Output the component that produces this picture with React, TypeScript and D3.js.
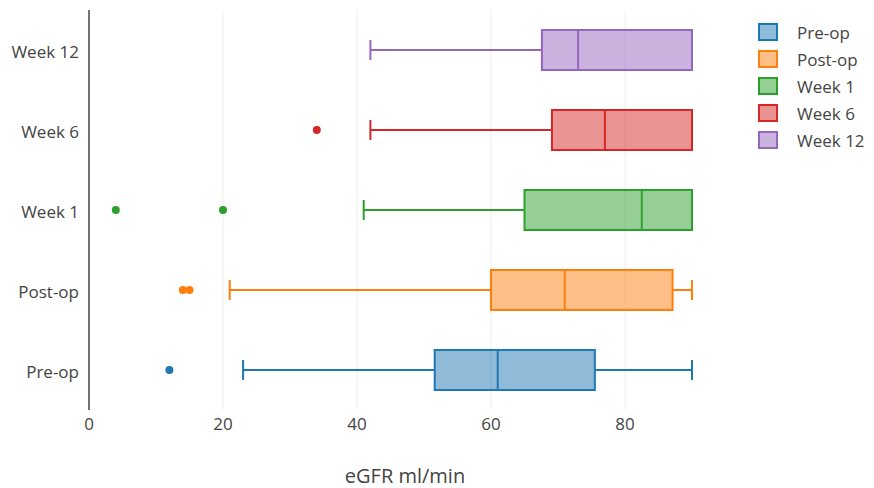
import React, { useEffect, useRef } from "react";
import * as d3 from "d3";

// categories from bottom to top
const categories = ["Pre-op", "Post-op", "Week 1", "Week 6", "Week 12"];
const colors = ["#1f77b4", "#ff7f0e", "#2ca02c", "#d62728", "#9467bd"];

// box stats (eGFR ml/min)
const lowerFence = [23, 21, 41, 42, 42];
const q1 = [51.6, 60, 65, 69.1, 67.6];
const median = [61, 71, 82.5, 77, 73];
const q3 = [75.5, 87.1, 90, 90, 90];
const upperFence = [90, 90, 90, 90, 90];
const outliers = [[12], [14, 15], [4, 20], [34], []];

const xTicks = [0, 20, 40, 60, 80];

const App = () => {
  const svgRef = useRef<SVGSVGElement>(null);

  useEffect(() => {
    document.body.style.margin = "0";
    const svg = d3.select(svgRef.current);
    svg.selectAll("*").remove();

    const font = "'Open Sans', 'Noto Sans', sans-serif";
    const x = d3.scaleLinear().domain([0, 92.5]).range([89, 89 + 92.5 * 6.7]);
    const y = d3.scaleBand().domain([...categories].reverse()).range([10, 410]);
    const bw = y.bandwidth();

    // grid lines
    svg.append("g")
      .selectAll("line")
      .data(xTicks.filter(t => t > 0))
      .join("line")
      .attr("x1", d => x(d)).attr("x2", d => x(d))
      .attr("y1", 10).attr("y2", 410)
      .attr("stroke", "#eee").attr("stroke-width", 1);

    // y axis line
    svg.append("line")
      .attr("x1", x(0)).attr("x2", x(0))
      .attr("y1", 10).attr("y2", 410)
      .attr("stroke", "#444").attr("stroke-width", 1.5);

    // x tick labels
    svg.append("g")
      .selectAll("text")
      .data(xTicks)
      .join("text")
      .attr("x", d => x(d)).attr("y", 430)
      .attr("text-anchor", "middle")
      .attr("font-family", font).attr("font-size", 17).attr("fill", "#444")
      .text(d => d);

    // y tick labels
    svg.append("g")
      .selectAll("text")
      .data(categories)
      .join("text")
      .attr("x", 79).attr("y", d => (y(d) as number) + bw / 2 + 2)
      .attr("dy", "0.35em")
      .attr("text-anchor", "end")
      .attr("font-family", font).attr("font-size", 17).attr("fill", "#444")
      .text(d => d);

    // axis title
    svg.append("text")
      .attr("x", 405).attr("y", 483)
      .attr("text-anchor", "middle")
      .attr("font-family", font).attr("font-size", 20).attr("fill", "#444")
      .text("eGFR ml/min");

    // boxes
    categories.forEach((cat, i) => {
      const cy = (y(cat) as number) + bw / 2;
      const g = svg.append("g");
      const c = colors[i];
      const boxH = bw * 0.5;
      const capH = bw * 0.25;

      // whiskers
      g.append("line")
        .attr("x1", x(lowerFence[i])).attr("x2", x(q1[i]))
        .attr("y1", cy).attr("y2", cy)
        .attr("stroke", c).attr("stroke-width", 2);
      g.append("line")
        .attr("x1", x(q3[i])).attr("x2", x(upperFence[i]))
        .attr("y1", cy).attr("y2", cy)
        .attr("stroke", c).attr("stroke-width", 2);
      [lowerFence[i], upperFence[i]].forEach(v => {
        g.append("line")
          .attr("x1", x(v)).attr("x2", x(v))
          .attr("y1", cy - capH / 2).attr("y2", cy + capH / 2)
          .attr("stroke", c).attr("stroke-width", 2);
      });

      // box
      g.append("rect")
        .attr("x", x(q1[i])).attr("y", cy - boxH / 2)
        .attr("width", x(q3[i]) - x(q1[i])).attr("height", boxH)
        .attr("fill", c).attr("fill-opacity", 0.5)
        .attr("stroke", c).attr("stroke-width", 2);
      g.append("line")
        .attr("x1", x(median[i])).attr("x2", x(median[i]))
        .attr("y1", cy - boxH / 2).attr("y2", cy + boxH / 2)
        .attr("stroke", c).attr("stroke-width", 2);

      // outliers
      g.selectAll("circle")
        .data(outliers[i])
        .join("circle")
        .attr("cx", d => x(d)).attr("cy", cy)
        .attr("r", 4).attr("fill", c);
    });

    // legend
    const legend = svg.append("g");
    categories.forEach((cat, i) => {
      const ly = 32 + i * 27;
      legend.append("rect")
        .attr("x", 759).attr("y", ly - 8)
        .attr("width", 18).attr("height", 16)
        .attr("fill", colors[i]).attr("fill-opacity", 0.5)
        .attr("stroke", colors[i]).attr("stroke-width", 2);
      legend.append("text")
        .attr("x", 797).attr("y", ly + 1).attr("dy", "0.35em")
        .attr("font-family", font).attr("font-size", 17).attr("fill", "#444")
        .text(cat);
    });
  }, []);

  return <svg ref={svgRef} width={874} height={488} style={{ display: "block", background: "#fff" }}></svg>;
};

export default App;
